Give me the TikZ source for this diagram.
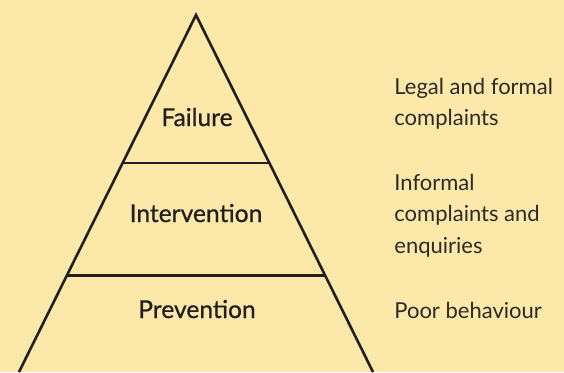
\documentclass[tikz,border=0pt]{standalone}
\usepackage{fontspec}
\setmainfont{Lato}
\newfontfamily\tierfont[FakeBold=0.8]{Lato}
\usepackage{xcolor}
\usepackage{tikz}
\usetikzlibrary{calc}
\definecolor{paper}{RGB}{252,232,168}
\definecolor{ink}{RGB}{35,31,32}
\definecolor{notegray}{RGB}{45,42,40}
\tikzset{
  pyramidline/.style={draw=ink, line width=1.3pt},
  tierlabel/.style={text=ink, font=\tierfont\fontsize{12.3}{14}\selectfont, anchor=base, inner sep=0pt},
  tiernote/.style={text=notegray, font=\fontsize{11}{15.6}\selectfont, align=left, anchor=base west, inner sep=0pt}
}

\begin{document}
\begin{tikzpicture}[x=0.5pt,y=-0.5pt]
% page background
\fill[paper] (0,0) rectangle (564,372);
\useasboundingbox (0,0) rectangle (564,372);

% outline of the pyramid
\coordinate (apex) at (196,15);
\coordinate (baseL) at (19,372);
\coordinate (baseR) at (373,372);
\draw[pyramidline, line join=miter] (baseL) -- (apex) -- (baseR);

% dividing lines between the tiers
\coordinate (t1L) at ($(apex)!0.415!(baseL)$);
\coordinate (t1R) at ($(apex)!0.415!(baseR)$);
\coordinate (t2L) at ($(apex)!0.730!(baseL)$);
\coordinate (t2R) at ($(apex)!0.730!(baseR)$);
\draw[pyramidline] (t1L) -- (t1R);
\draw[pyramidline] (t2L) -- (t2R);

% tier names
\node[tierlabel] (failure) at (197,126) {Failure};
\node[tierlabel] (intervention) at (196,222) {Intervention};
\node[tierlabel] (prevention) at (197,318) {Prevention};

% what each tier stands for (base = last line)
\node[tiernote] (legal) at (394,125.5) {Legal and formal\\complaints};
\node[tiernote] (informal) at (394,253) {Informal\\complaints and\\enquiries};
\node[tiernote] (poor) at (394,318) {Poor behaviour};
\end{tikzpicture}
\end{document}
